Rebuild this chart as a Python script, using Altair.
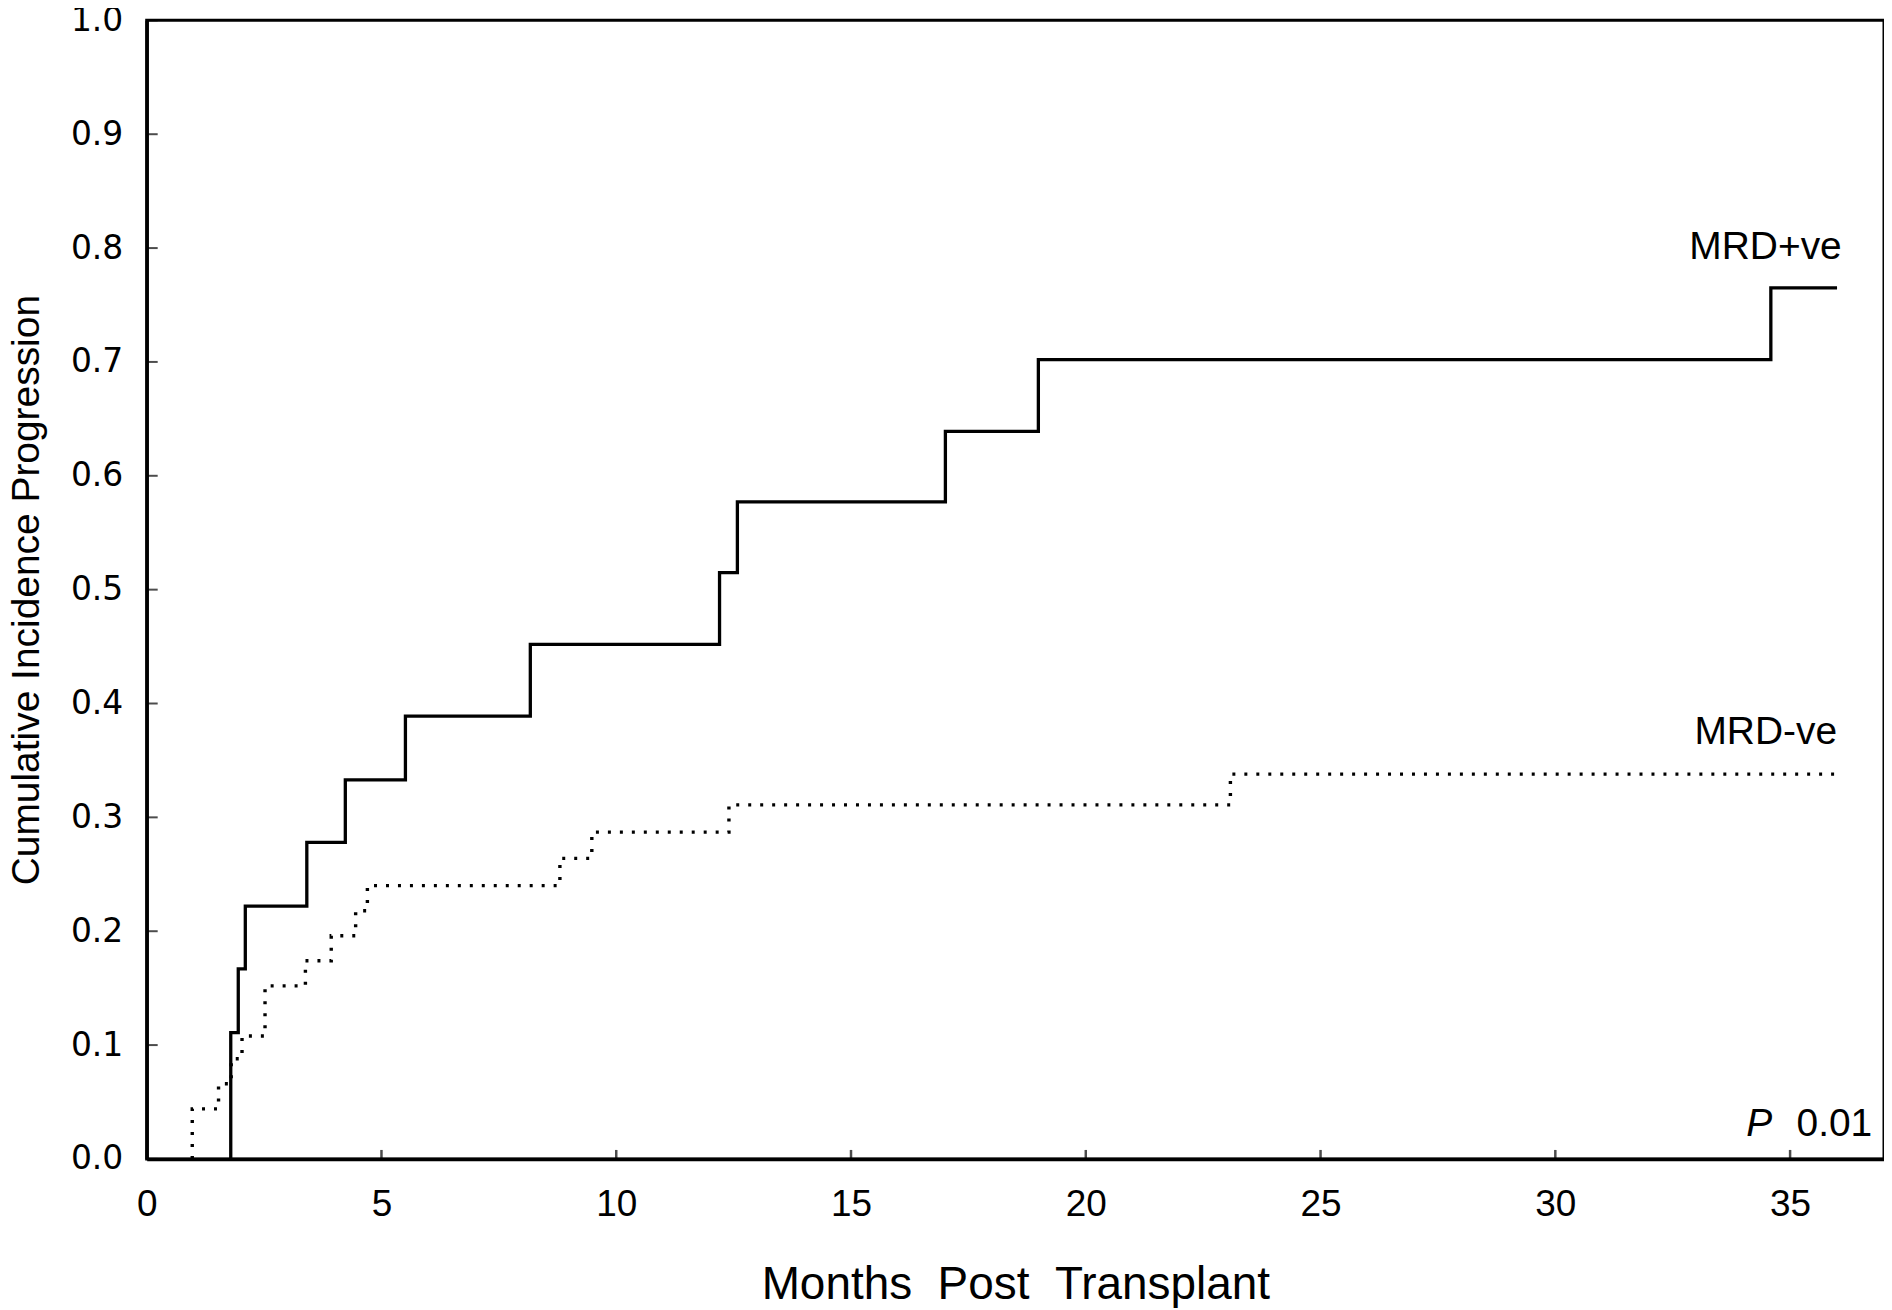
import altair as alt
import pandas as pd

# ---- data ----
x_tick_values = [0, 5, 10, 15, 20, 25, 30, 35]
y_tick_values = [0.0, 0.1, 0.2, 0.3, 0.4, 0.5, 0.6, 0.7, 0.8, 0.9, 1.0]

# MRD+ve (solid step curve)
pos_months = [1.79, 1.79, 1.95, 2.10, 3.41, 4.23, 5.51, 8.17, 12.20, 12.58, 17.01, 18.99, 34.59, 36.0]
pos_cuminc = [0.0, 0.111, 0.167, 0.222, 0.278, 0.333, 0.389, 0.452, 0.515, 0.577, 0.639, 0.702, 0.765, 0.765]

# MRD-ve (dotted step curve)
neg_months = [0.97, 0.97, 1.53, 1.80, 2.03, 2.52, 3.38, 3.93, 4.45, 4.70, 8.80, 9.48, 12.40, 23.08, 36.0]
neg_cuminc = [0.0, 0.044, 0.066, 0.088, 0.108, 0.152, 0.174, 0.196, 0.218, 0.240, 0.264, 0.287, 0.311, 0.338, 0.338]

label_texts = ["MRD+ve", "MRD-ve", "0.01"]
label_x = [36.1, 36.0, 36.75]
label_y = [0.801, 0.375, 0.031]

p_text = ["P"]
p_x = [34.62]
p_y = [0.031]

# ---- frames ----
pos_df = pd.DataFrame({"m": pos_months, "c": pos_cuminc, "o": list(range(len(pos_months)))})
neg_df = pd.DataFrame({"m": neg_months, "c": neg_cuminc, "o": list(range(len(neg_months)))})
xt_df = pd.DataFrame({"m": x_tick_values})
yt_df = pd.DataFrame({"c": y_tick_values})
lab_df = pd.DataFrame({"t": label_texts, "m": label_x, "c": label_y})
p_df = pd.DataFrame({"t": p_text, "m": p_x, "c": p_y})

W, H = 1741, 1141

xscale = alt.Scale(domain=[0, 37], nice=False, zero=False)
yscale = alt.Scale(domain=[0, 1], nice=False)

xaxis = alt.Axis(
    values=x_tick_values, title="Months\u00a0\u00a0Post\u00a0\u00a0Transplant", labelFont="Liberation Sans",
    labelFontSize=37, labelPadding=28, labelFlush=False, titleFont="Liberation Sans", titleFontSize=46,
    titleFontWeight="normal", titlePadding=40, titleColor="black", labelColor="black",
    ticks=False, grid=False,
)
yaxis = alt.Axis(
    values=y_tick_values, format=".1f", title="Cumulative Incidence Progression",
    labelFont="DejaVu Sans", labelFontSize=33, labelPadding=24, labelFlush=False,
    titleFont="Liberation Sans", titleFontSize=39, titleFontWeight="normal", titlePadding=24,
    titleColor="black", labelColor="black", ticks=False, grid=False,
)

pos_line = alt.Chart(pos_df).mark_line(
    interpolate="step-after", color="black", strokeWidth=3.3
).encode(
    x=alt.X("m:Q", scale=xscale, axis=xaxis),
    y=alt.Y("c:Q", scale=yscale, axis=yaxis),
    order="o:Q",
)

neg_line = alt.Chart(neg_df).mark_line(
    interpolate="step-after", color="black", strokeWidth=3.4, strokeDash=[3, 9], strokeCap="butt"
).encode(
    x=alt.X("m:Q", scale=xscale),
    y=alt.Y("c:Q", scale=yscale),
    order="o:Q",
)

x_ticks = alt.Chart(xt_df).mark_tick(color="black", thickness=2.5, size=9).encode(
    x=alt.X("m:Q", scale=xscale),
    y=alt.value(H - 4.5),
)
y_ticks = alt.Chart(yt_df).mark_tick(color="black", thickness=2, size=11).encode(
    y=alt.Y("c:Q", scale=yscale),
    x=alt.value(5.5),
)

labels = alt.Chart(lab_df).mark_text(
    align="right", baseline="middle", font="Liberation Sans", fontSize=39, color="black"
).encode(
    x=alt.X("m:Q", scale=xscale),
    y=alt.Y("c:Q", scale=yscale),
    text="t:N",
)
p_label = alt.Chart(p_df).mark_text(
    align="right", baseline="middle", font="Liberation Sans", fontSize=39, fontStyle="italic", color="black"
).encode(
    x=alt.X("m:Q", scale=xscale),
    y=alt.Y("c:Q", scale=yscale),
    text="t:N",
)

chart = alt.layer(pos_line, neg_line, x_ticks, y_ticks, labels, p_label).properties(
    width=W, height=H,
    autosize=alt.AutoSizeParams(type="none"),
    padding={"left": 139, "top": 11, "right": 0, "bottom": 148},
).configure_view(
    stroke="black", strokeWidth=3
).configure_axis(
    domainColor="black", domainWidth=3.5
)

chart.save("out.html", embed_options={"renderer": "svg", "actions": False})
